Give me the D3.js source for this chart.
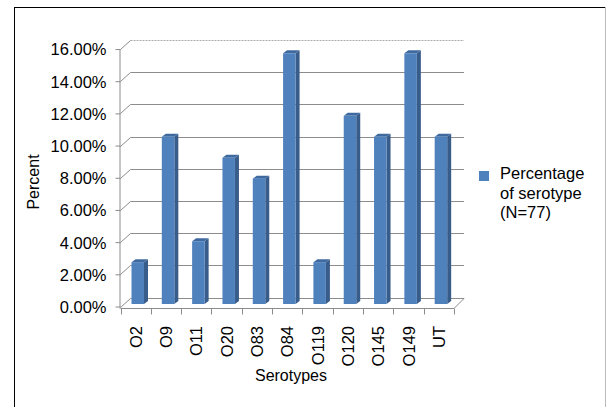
<!DOCTYPE html>
<html>
<head>
<meta charset="utf-8">
<script src="https://cdn.jsdelivr.net/npm/d3@7"></script>
<style>
  body { margin: 0; background: #fff; }
  svg { font-family: "Liberation Sans", Arial, sans-serif; }
</style>
</head>
<body>
<svg id="chart" width="607" height="407"></svg>
<script>
// serotype shares, percent of N=77
const serotypes = ["O2", "O9", "O11", "O20", "O83", "O84", "O119", "O120", "O145", "O149", "UT"];
const percentages = [2.60, 10.39, 3.90, 9.09, 7.79, 15.58, 2.60, 11.69, 10.39, 15.58, 10.39];
const yTicks = [0, 2, 4, 6, 8, 10, 12, 14, 16];
const legendLines = ["Percentage", "of serotype", "(N=77)"];

const svg = d3.select("#chart");

// depth of the fake 3d box
const depthX = 10, depthY = -9;

const x = d3.scaleBand()
    .domain(serotypes)
    .range([120.5, 454]);

const y = d3.scaleLinear()
    .domain([0, 16])
    .range([306.5, 49]);

// outer frame
svg.append("line").attr("x1", 14.5).attr("x2", 14.5).attr("y1", 7).attr("y2", 407)
    .attr("stroke", "#000");
svg.append("line").attr("x1", 14).attr("x2", 606).attr("y1", 7.5).attr("y2", 7.5)
    .attr("stroke", "#000");
svg.append("line").attr("x1", 605.5).attr("x2", 605.5).attr("y1", 7).attr("y2", 407)
    .attr("stroke", "#bbb");

let grid = svg.append("g");
let x0 = x.range()[0], x1 = x.range()[1];

// back wall gridlines + left wall diagonals
yTicks.forEach(function(t) {
    let yy = Math.round(y(t)) + 0.5;
    if (t > 0) {
        grid.append("line")
            .attr("x1", x0 + depthX).attr("x2", x1 + depthX)
            .attr("y1", yy + depthY).attr("y2", yy + depthY)
            .attr("stroke", t == 16 ? "#aaa" : "#8c8c8c")
            .attr("stroke-dasharray", t == 16 ? "2,1" : null);
    }
    grid.append("line")
        .attr("x1", x0).attr("x2", x0 + depthX)
        .attr("y1", yy).attr("y2", yy + depthY)
        .attr("stroke", "#8c8c8c");
});

// floor
let y0 = Math.round(y(0)) + 0.5;
grid.append("path")
    .attr("d", "M" + x0 + "," + (y0 + 1) + "L" + x1 + "," + (y0 + 1) +
        "L" + (x1 + depthX) + "," + (y0 + depthY) + "L" + (x0 + depthX) + "," + (y0 + depthY))
    .attr("fill", "none")
    .attr("stroke", "#8c8c8c");

// y axis
let yAxis = svg.append("g")
    .attr("transform", "translate(" + x0 + ",0)")
    .call(d3.axisLeft(y).tickValues(yTicks).tickSize(5).tickFormat(d => d3.format(".2f")(d) + "%"));
yAxis.select(".domain").attr("stroke", "#8c8c8c").attr("d", "M-0.5," + y(16) + "V" + (y0 + 1));
yAxis.selectAll(".tick line").attr("stroke", "#8c8c8c");
yAxis.selectAll(".tick text")
    .attr("x", -14)
    .attr("dy", "0.36em")
    .style("font-size", "16.5px")
    .attr("fill", "#000");

// x ticks at category boundaries
let bounds = serotypes.map(d => x(d)).concat([x1]);
svg.append("g").selectAll("line")
    .data(bounds)
    .enter()
    .append("line")
    .attr("x1", d => Math.round(d) + 0.5)
    .attr("x2", d => Math.round(d) + 0.5)
    .attr("y1", y0 + 1)
    .attr("y2", y0 + 7)
    .attr("stroke", "#8c8c8c");

// bars: front, side, top
let barW = 12.5, sideW = 4, rise = 3, lift = 2.5;
let bars = svg.append("g").selectAll("g")
    .data(serotypes)
    .enter()
    .append("g");

bars.append("path")
    .attr("d", function(d, i) {
        let bx = x(d) + 11 + barW, top = y(percentages[i]) - lift, bot = y(0) - lift;
        return "M" + bx + "," + top + "L" + (bx + sideW) + "," + (top - rise) +
            "L" + (bx + sideW) + "," + (bot - rise) + "L" + bx + "," + bot + "Z";
    })
    .attr("fill", "#385d8a");

bars.append("path")
    .attr("d", function(d, i) {
        let bx = x(d) + 11, top = y(percentages[i]) - lift;
        return "M" + bx + "," + top + "L" + (bx + sideW) + "," + (top - rise) +
            "L" + (bx + barW + sideW) + "," + (top - rise) + "L" + (bx + barW) + "," + top + "Z";
    })
    .attr("fill", "#3f6aa0");

bars.append("rect")
    .attr("x", d => x(d) + 11)
    .attr("y", (d, i) => y(percentages[i]) - lift)
    .attr("width", barW)
    .attr("height", (d, i) => y(0) - y(percentages[i]))
    .attr("fill", "#4f81bd");

// category labels, rotated
svg.append("g").selectAll("text")
    .data(serotypes)
    .enter()
    .append("text")
    .attr("transform", d => "translate(" + (x(d) + x.bandwidth() / 2 + 6) + ",326) rotate(-90)")
    .attr("text-anchor", "end")
    .style("font-size", "16.5px")
    .text(d => d);

// axis titles
svg.append("text")
    .attr("transform", "translate(39,182) rotate(-90)")
    .attr("text-anchor", "middle")
    .style("font-size", "16px")
    .text("Percent");

svg.append("text")
    .attr("x", 291)
    .attr("y", 381)
    .attr("text-anchor", "middle")
    .style("font-size", "16px")
    .text("Serotypes");

// legend
svg.append("rect")
    .attr("x", 479).attr("y", 171)
    .attr("width", 10).attr("height", 10)
    .attr("fill", "#4f81bd");

svg.append("g").selectAll("text")
    .data(legendLines)
    .enter()
    .append("text")
    .attr("x", 500)
    .attr("y", (d, i) => 179 + i * 19.7)
    .style("font-size", "16.5px")
    .text(d => d);
</script>
</body>
</html>
